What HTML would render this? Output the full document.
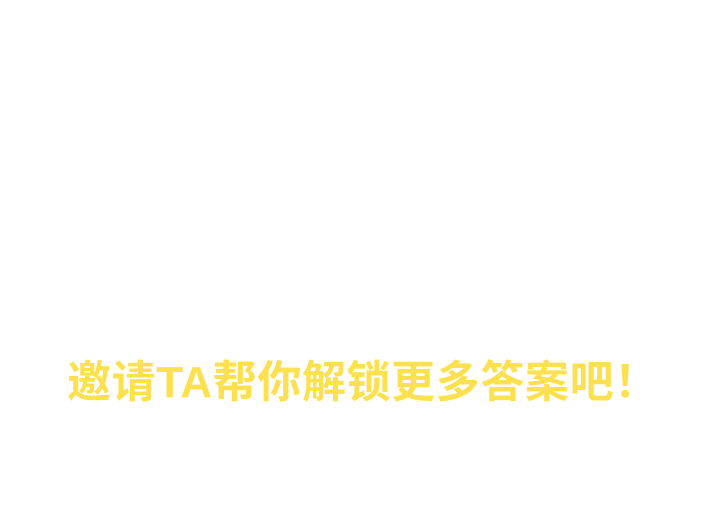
<!DOCTYPE html>
<html><head><meta charset="utf-8"><style>
html,body{margin:0;padding:0;background:#fff;width:703px;height:522px;overflow:hidden}
#t{position:absolute;left:67px;top:354px;white-space:nowrap;
font-family:"Liberation Sans","Noto Sans CJK SC",sans-serif;font-weight:bold;font-size:44px;line-height:58px;color:#fbe04f;letter-spacing:0.6px}
</style></head><body>
<div id="t">邀请TA帮你解锁更多答案吧！</div>
</body></html>
